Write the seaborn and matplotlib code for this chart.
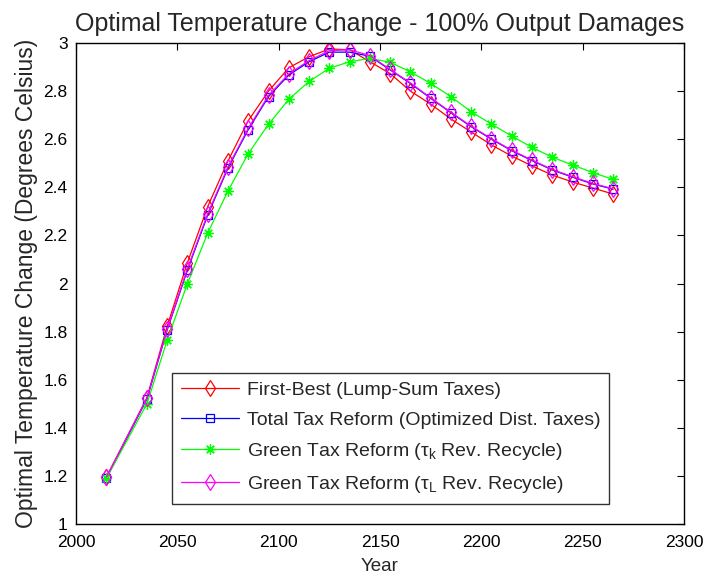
import matplotlib
matplotlib.use("Agg")
import matplotlib.pyplot as plt
import seaborn as sns
import pandas as pd

years = [2015, 2035, 2045, 2055, 2065, 2075, 2085, 2095, 2105, 2115, 2125, 2135, 2145,
         2155, 2165, 2175, 2185, 2195, 2205, 2215, 2225, 2235, 2245, 2255, 2265]

first_best = [1.195, 1.525, 1.823, 2.087, 2.32, 2.51, 2.677, 2.80, 2.897, 2.943, 2.975, 2.972, 2.922,
              2.873, 2.80, 2.746, 2.684, 2.63, 2.576, 2.53, 2.489, 2.451, 2.422, 2.397, 2.372]
total_reform = [1.19, 1.52, 1.807, 2.056, 2.285, 2.48, 2.64, 2.777, 2.867, 2.922, 2.962, 2.962, 2.945,
                2.888, 2.832, 2.77, 2.71, 2.652, 2.60, 2.552, 2.511, 2.472, 2.442, 2.414, 2.392]
green_k = [1.19, 1.50, 1.765, 2.0, 2.21, 2.385, 2.54, 2.662, 2.766, 2.84, 2.895, 2.922, 2.936,
           2.92, 2.88, 2.832, 2.777, 2.714, 2.663, 2.613, 2.566, 2.525, 2.493, 2.461, 2.433]
green_L = [1.195, 1.522, 1.81, 2.062, 2.29, 2.485, 2.645, 2.782, 2.872, 2.927, 2.968, 2.972, 2.948,
           2.89, 2.834, 2.772, 2.712, 2.654, 2.602, 2.554, 2.513, 2.474, 2.444, 2.416, 2.394]

labels = ["First-Best (Lump-Sum Taxes)",
          "Total Tax Reform (Optimized Dist. Taxes)",
          r"Green Tax Reform ($\tau_k$ Rev. Recycle)",
          r"Green Tax Reform ($\tau_L$ Rev. Recycle)"]
series = [first_best, total_reform, green_k, green_L]
colors = ["#ff0000", "#0000ff", "#00ff00", "#ff00ff"]
markers = ["d", "s", (8, 2, 0), "d"]
msizes = [8, 6, 7.5, 8]

xticks = [2000, 2050, 2100, 2150, 2200, 2250, 2300]
yticks = [1, 1.2, 1.4, 1.6, 1.8, 2, 2.2, 2.4, 2.6, 2.8, 3]
ytick_labels = ["1", "1.2", "1.4", "1.6", "1.8", "2", "2.2", "2.4", "2.6", "2.8", "3"]

sns.set_theme(style="white")
plt.rcParams["font.family"] = ["Liberation Sans", "DejaVu Sans"]
plt.rcParams["mathtext.fontset"] = "custom"
plt.rcParams["mathtext.rm"] = "Liberation Sans"
plt.rcParams["mathtext.it"] = "Liberation Sans"

fig = plt.figure(figsize=(7.12, 5.79), dpi=100)
ax = fig.add_axes([76 / 712, 1 - 524 / 579, 608 / 712, 481 / 579])

for vals, lab, col, mk, ms in zip(series, labels, colors, markers, msizes):
    df = pd.DataFrame({"Year": years, "Temp": vals})
    sns.lineplot(data=df, x="Year", y="Temp", ax=ax, color=col, marker=mk,
                 markersize=ms, markerfacecolor="none", markeredgecolor=col,
                 markeredgewidth=0.9, linewidth=0.9, label=lab)

ax.set_xlim(2000, 2300)
ax.set_ylim(1, 3)
ax.set_xticks(xticks)
ax.set_xticklabels([str(t) for t in xticks])
ax.set_yticks(yticks)
ax.set_yticklabels(ytick_labels)
ax.tick_params(direction="in", length=5, width=0.8, top=True, right=True,
               labelsize=12.5, colors="black")
ax.tick_params(axis="x", pad=8)
ax.tick_params(axis="y", pad=6)
for s in ax.spines.values():
    s.set_color("black")
    s.set_linewidth(1.0)

ax.set_xlabel("Year", fontsize=13.5, labelpad=6)
ax.set_ylabel("Optimal Temperature Change (Degrees Celsius)", fontsize=16.5, labelpad=4)
ax.set_title("Optimal Temperature Change - 100% Output Damages", fontsize=18, pad=9)

leg = ax.legend(loc="lower left", bbox_to_anchor=(0.158, 0.042), frameon=True,
                fancybox=False, edgecolor="black", fontsize=14, labelspacing=0.62,
                handlelength=3.0, borderpad=0.45, handletextpad=0.4, borderaxespad=0)
leg.get_frame().set_linewidth(1.0)

fig.savefig("out.png", dpi=100)
